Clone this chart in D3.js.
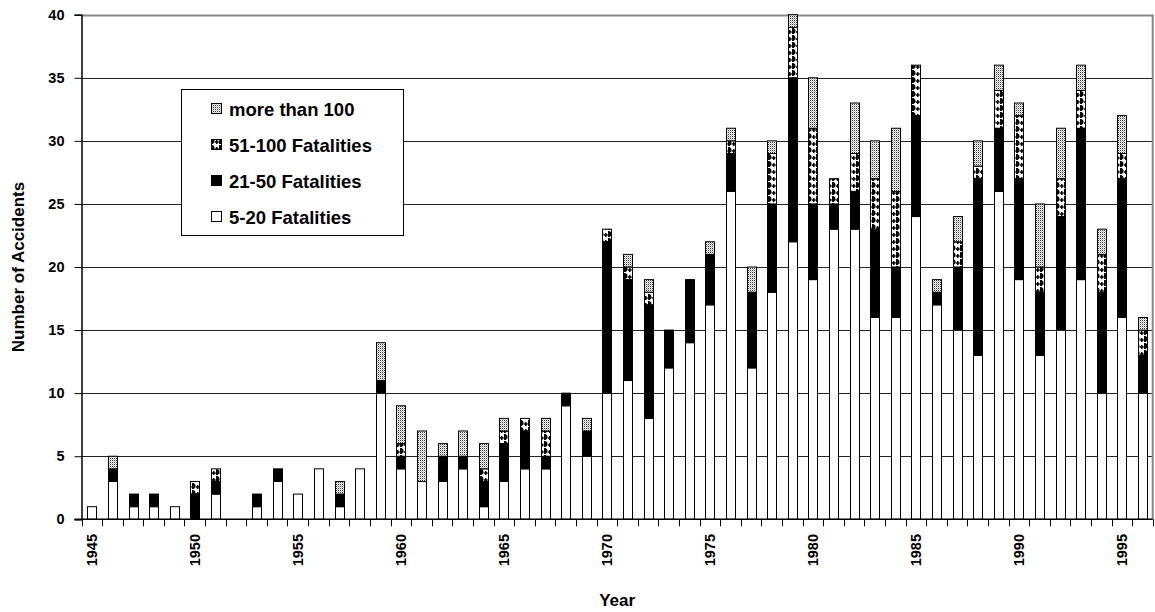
<!DOCTYPE html>
<html>
<head>
<meta charset="utf-8">
<script src="https://cdn.jsdelivr.net/npm/d3@7/dist/d3.min.js"></script>
<style>
  html, body { margin: 0; padding: 0; background: #fff; }
  svg { display: block; font-family: "Liberation Sans", Arial, sans-serif; font-weight: bold; }
</style>
</head>
<body>
<svg id="chart" width="1155" height="612"></svg>
<script>
// ---- data ----
const years = [1945,1946,1947,1948,1949,1950,1951,1952,1953,1954,1955,1956,1957,1958,1959,
  1960,1961,1962,1963,1964,1965,1966,1967,1968,1969,1970,1971,1972,1973,1974,1975,1976,
  1977,1978,1979,1980,1981,1982,1983,1984,1985,1986,1987,1988,1989,1990,1991,1992,1993,
  1994,1995,1996];
const fat5to20 = [1,3,1,1,1,0,2,0,1,3,2,4,1,4,10,
  4,3,3,4,1,3,4,4,9,5,10,11,8,12,14,17,26,
  12,18,22,19,23,23,16,16,24,17,15,13,26,19,13,15,19,
  10,16,10];
const fat21to50 = [0,1,1,1,0,2,1,0,1,1,0,0,1,0,1,
  1,0,2,1,2,3,3,1,1,2,12,8,9,3,5,4,3,
  6,7,13,6,2,3,7,4,8,1,5,14,5,8,5,9,12,
  8,11,3];
const fat51to100 = [0,0,0,0,0,1,1,0,0,0,0,0,0,0,0,
  1,0,0,0,1,1,1,2,0,0,1,1,1,0,0,0,1,
  0,4,4,6,2,3,4,6,4,0,2,1,3,5,2,3,3,
  3,2,2];
const fatOver100 = [0,1,0,0,0,0,0,0,0,0,0,0,1,0,3,
  3,4,1,2,2,1,0,1,0,1,0,1,1,0,0,1,1,
  2,1,1,4,0,4,3,5,0,1,2,2,2,1,5,4,2,
  2,3,1];
const seriesKeys = ["5-20 Fatalities","21-50 Fatalities","51-100 Fatalities","more than 100"];
const yTicks = [0,5,10,15,20,25,30,35,40];
const xTickLabels = [1945,1950,1955,1960,1965,1970,1975,1980,1985,1990,1995];

// ---- build table for stacking ----
const seriesArrays = [fat5to20, fat21to50, fat51to100, fatOver100];
const table = years.map((yr, i) => {
  const row = { year: yr };
  seriesKeys.forEach((k, j) => row[k] = seriesArrays[j][i]);
  return row;
});

const svg = d3.select("#chart");
const L = 81.5, R = 1152.7, T = 14.7, B = 519.3;

// patterns
const defs = svg.append("defs");
const pStip = defs.append("pattern").attr("id","pStip").attr("patternUnits","userSpaceOnUse")
  .attr("width",2).attr("height",2);
pStip.append("rect").attr("width",2).attr("height",2).attr("fill","#fff");
pStip.append("rect").attr("width",1).attr("height",1).attr("fill","#333");
pStip.append("rect").attr("x",1).attr("y",1).attr("width",1).attr("height",1).attr("fill","#bbb");

const pWave = defs.append("pattern").attr("id","pWave").attr("patternUnits","userSpaceOnUse")
  .attr("width",8).attr("height",7);
pWave.append("rect").attr("width",8).attr("height",7).attr("fill","#fff");
pWave.append("path").attr("d","M0,0 H1.5 A3.2,3.2 0 0 1 1.5,6 H0 Z").attr("fill","#000");
pWave.append("path").attr("d","M5,2 h1.5 v1.2 h1.2 v1.5 h-1.2 v1.2 h-1.5 v-1.2 h-1.2 v-1.5 h1.2 Z").attr("fill","#000");

const fills = {
  "5-20 Fatalities": "#fff",
  "21-50 Fatalities": "#000",
  "51-100 Fatalities": "url(#pWave)",
  "more than 100": "url(#pStip)"
};

const x = d3.scaleBand().domain(years).range([L, R]).paddingInner(0.58).paddingOuter(0.29);
const y = d3.scaleLinear().domain([0, 40]).range([B, T]);

// gridlines
svg.append("g").selectAll("line").data(yTicks.filter(d => d > 0 && d < 40)).join("line")
  .attr("x1", L).attr("x2", R).attr("y1", d => Math.round(y(d)) + 0.5).attr("y2", d => Math.round(y(d)) + 0.5)
  .attr("stroke", "#222").attr("stroke-width", 1);
// top & right border (gray)
svg.append("path")
  .attr("d", `M${L},${Math.round(y(40))+0.5} H${R} V${B}`)
  .attr("fill","none").attr("stroke","#888").attr("stroke-width",2);

// bars
const stack = d3.stack().keys(seriesKeys)(table);
svg.append("g").selectAll("g").data(stack).join("g")
  .attr("fill", d => fills[d.key])
  .selectAll("rect").data(d => d.filter(p => p[1] - p[0] > 0)).join("rect")
  .attr("x", d => Math.round(x(d.data.year)) + 0.5)
  .attr("width", Math.round(x.bandwidth()))
  .attr("y", d => y(d[1]))
  .attr("height", d => y(d[0]) - y(d[1]))
  .attr("stroke", "#000").attr("stroke-width", 1);

// y axis
const yAxis = d3.axisLeft(y).tickValues(yTicks).tickSize(7).tickPadding(10);
const gy = svg.append("g").attr("transform", `translate(${L},0)`).call(yAxis);
gy.select(".domain").attr("stroke","#000").attr("stroke-width",1.5);
gy.selectAll(".tick line").attr("stroke","#000");
gy.selectAll(".tick text").attr("font-size","14.5px").attr("font-weight","bold")
  .attr("font-family","'Liberation Sans', Arial, sans-serif").attr("fill","#000");

// x axis line
svg.append("line").attr("x1", L - 7).attr("x2", R).attr("y1", B).attr("y2", B)
  .attr("stroke","#000").attr("stroke-width",1.5);
// category boundary ticks
const boundaries = years.map(yr => x(yr) + x.bandwidth()/2 + x.step()/2);
svg.append("g").selectAll("line").data([L].concat(boundaries)).join("line")
  .attr("x1", d => Math.round(d) + 0.5).attr("x2", d => Math.round(d) + 0.5)
  .attr("y1", B).attr("y2", B + 7).attr("stroke","#000");
// x labels
svg.append("g").selectAll("text").data(xTickLabels).join("text")
  .attr("transform", d => `translate(${x(d) + x.bandwidth()/2},534) rotate(-90)`)
  .attr("text-anchor","end").attr("dy","0.36em")
  .attr("font-size","14.5px").text(d => d);

// axis titles
svg.append("text").attr("transform", `translate(24,${(T+B)/2}) rotate(-90)`)
  .attr("text-anchor","middle").attr("font-size","17px").text("Number of Accidents");
svg.append("text").attr("x", (L+R)/2).attr("y", 606)
  .attr("text-anchor","middle").attr("font-size","17px").text("Year");

// legend
const lg = svg.append("g");
lg.append("rect").attr("x",181.5).attr("y",89.5).attr("width",222).attr("height",146)
  .attr("fill","#fff").attr("stroke","#000").attr("stroke-width",1);
const legendOrder = ["more than 100","51-100 Fatalities","21-50 Fatalities","5-20 Fatalities"];
const rows = lg.selectAll("g").data(legendOrder).join("g")
  .attr("transform", (d,i) => `translate(211,${109 + i*36})`);
rows.append("rect").attr("x",0.5).attr("y",-5.5).attr("width",10).attr("height",10)
  .attr("fill", d => fills[d]).attr("stroke","#000");
rows.append("text").attr("x",18).attr("dy","0.36em").attr("font-size","18.5px").text(d => d);
</script>
</body>
</html>
